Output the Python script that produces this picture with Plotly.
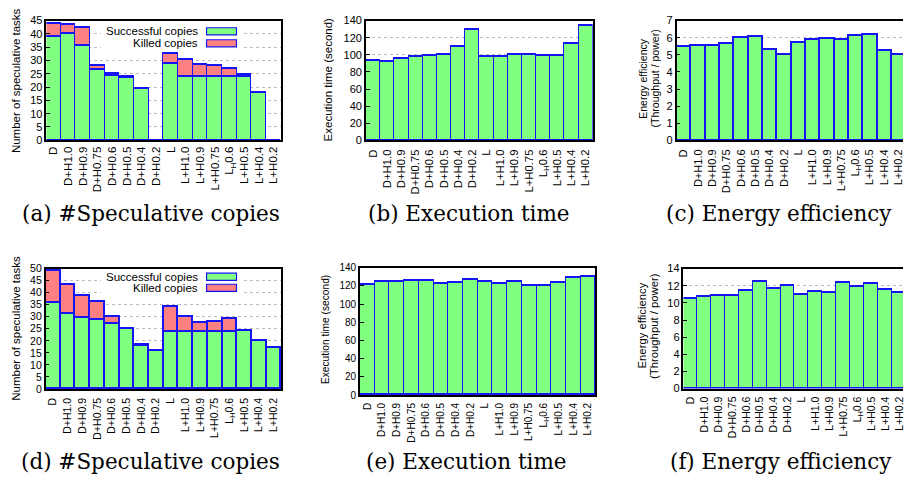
import plotly.graph_objects as go

W, H = 905, 485

categories = ["D", "D+H1.0", "D+H0.9", "D+H0.75", "D+H0.6", "D+H0.5", "D+H0.4", "D+H0.2",
              "L", "L+H1.0", "L+H0.9", "L+H0.75", "L<sub>H</sub>0.6", "L+H0.5", "L+H0.4", "L+H0.2"]

# (a) speculative copies, first setting
succ_a = [39, 40, 35.5, 26.5, 24.5, 23.5, 19.5, 0, 29, 24, 24, 24, 24, 24, 18, 0]
killed_a = [5, 3.5, 7, 1.5, 0.5, 0.5, 0, 0, 3.5, 6.5, 4.5, 4.2, 2.8, 0.8, 0, 0]
# (b) execution time
exec_b = [93.6, 92.5, 95, 98, 99.3, 99.7, 110, 130, 97.4, 98, 99.7, 99.7, 99, 99, 113, 134]
# (c) energy efficiency
eff_c = [5.46, 5.53, 5.55, 5.65, 5.99, 6.07, 5.31, 5.04, 5.69, 5.9, 5.95, 5.9, 6.1, 6.18, 5.23, 5.0]
# (d) speculative copies, second setting
succ_d = [35.8, 31.4, 29.7, 28.8, 27.3, 25.1, 18.2, 15.9, 23.9, 24, 24, 24, 24, 24.1, 20, 17.2]
killed_d = [13.5, 12.1, 9.2, 7.4, 2.7, 0, 0.4, 0, 10.3, 6, 3.6, 4.1, 5.2, 0, 0, 0]
# (e) execution time
exec_e = [121.4, 124.4, 124.4, 125.7, 125.2, 122.9, 123.6, 126.8, 124.4, 122.5, 124.4, 120.5, 120.5, 123.6, 128.6, 129.6]
# (f) energy efficiency
eff_f = [10.55, 10.7, 10.85, 10.85, 11.42, 12.48, 11.65, 12.03, 11.0, 11.34, 11.23, 12.37, 11.95, 12.22, 11.6, 11.15]

captions = ["(a) #Speculative copies", "(b) Execution time", "(c) Energy efficiency",
            "(d) #Speculative copies", "(e) Execution time", "(f) Energy efficiency"]

GREEN = "#80FF80"
RED = "#FF8080"
EDGE = "#1414F5"
SANS = "Liberation Sans, Arial, sans-serif"
SERIF = "DejaVu Serif, serif"


def px(x):
    return x / W


def py(y):
    return 1 - y / H


# panel geometry in pixels:
# (x0, x1, ytop, ybottom, yrange, dtick, xrange_end, xtick font, ytick font, xlabel standoff)
panels = [
    (46.5, 281.5, 15, 137.7, [0, 45], 5, 15.5, 11.5, 11, 0),
    (366.7, 594, 15, 137.7, [0, 140], 20, 15.5, 11.3, 11, 3),
    (678, 905, 15, 137.7, [0, 7], 1, 15.31, 11, 11, 3),
    (45.7, 281.7, 269.3, 392.7, [0, 50], 5, 15.5, 10.5, 10.5, 3),
    (360.7, 596.7, 268.3, 399, [0, 140], 20, 15.5, 10, 10, 2),
    (685, 905, 269.3, 392.3, [0, 14], 2, 15.26, 10.5, 11, 2),
]

fig = go.Figure()

series = [
    [(succ_a, GREEN, "Successful copies"), (killed_a, RED, "Killed copies")],
    [(exec_b, GREEN, "Execution time")],
    [(eff_c, GREEN, "Energy efficiency")],
    [(succ_d, GREEN, "Successful copies"), (killed_d, RED, "Killed copies")],
    [(exec_e, GREEN, "Execution time")],
    [(eff_f, GREEN, "Energy efficiency")],
]

layout = {}
for i, (p, ser) in enumerate(zip(panels, series)):
    n = "" if i == 0 else str(i + 1)
    x0, x1, yt, yb, yr, dt, xend, xfs, yfs, stand = p
    for vals, col, name in ser:
        fig.add_trace(go.Bar(x=categories, y=vals, name=name, showlegend=False,
                             marker=dict(color=col, line=dict(color=EDGE, width=1.2)),
                             xaxis="x" + n, yaxis="y" + n))
    right_cut = xend < 15.5
    layout["xaxis" + n] = dict(
        domain=[px(x0), px(x1)], anchor="y" + n, type="category",
        range=[-0.5, xend], tickangle=-90, showline=True, linecolor="black", linewidth=1.5,
        mirror=True, ticks="", tickfont=dict(family=SANS, size=xfs, color="black"),
        ticklabelstandoff=stand, ticklabeloverflow="allow",
        showgrid=False, fixedrange=True)
    layout["yaxis" + n] = dict(
        domain=[py(yb), py(yt)], anchor="x" + n, range=yr, dtick=dt,
        showline=True, linecolor="black", linewidth=1.5, mirror=(not right_cut),
        ticks="inside", ticklen=4, tickcolor="black",
        tickfont=dict(family=SANS, size=yfs, color="black"),
        showgrid=True, gridcolor="#bbbbbb", griddash="dot", gridwidth=1,
        zeroline=False, fixedrange=True)

fig.update_layout(**layout)
fig.update_layout(barmode="stack", bargap=0, width=W, height=H,
                  margin=dict(l=0, r=0, t=0, b=0),
                  plot_bgcolor="white", paper_bgcolor="white", showlegend=False)

ann = []
# y-axis titles (text, x centre, y centre, size)
ytitles = [
    ("Number of speculative tasks", 16, 76, 11.5),
    ("Execution time (second)", 329, 75, 11.5),
    ("Energy efficiency", 645, 74, 10.5),
    ("(Throughput / power)", 656.7, 74, 10.5),
    ("Number of speculative tasks", 16, 330, 11.5),
    ("Execution time (second)", 327, 332, 10.2),
    ("Energy efficiency", 643, 328, 11.3),
    ("(Throughput / power)", 655.5, 328, 11.3),
]
for t, x, y, s in ytitles:
    ann.append(dict(text=t, x=px(x), y=py(y), xref="paper", yref="paper", showarrow=False,
                    textangle=-90, xanchor="center", yanchor="middle",
                    font=dict(family=SANS, size=s, color="black")))
# captions
cap_pos = [(151, 213), (470, 213), (781, 213), (151, 467), (468, 467), (783, 467)]
for t, (x, y) in zip(captions, cap_pos):
    ann.append(dict(text=t, x=px(x), y=py(y), xref="paper", yref="paper", showarrow=False,
                    xanchor="center", yanchor="middle",
                    font=dict(family=SERIF, size=21.5, color="black")))

shapes = []
# manual legends (text left of swatch) for panels (a) and (d)
for (bx0, bx1, by0, by1, rows, fs) in [
    (101, 243, 17, 44, [26, 38.3], 11.5),
    (101, 243, 271, 296, [277.7, 289], 11.5),
]:
    shapes.append(dict(type="rect", xref="paper", yref="paper", x0=px(bx0), x1=px(bx1),
                       y0=py(by1), y1=py(by0), fillcolor="white", line=dict(width=0),
                       layer="above"))
    for (label, col), ry in zip([("Successful copies", GREEN), ("Killed copies", RED)], rows):
        ann.append(dict(text=label, x=px(200), y=py(ry), xref="paper", yref="paper",
                        showarrow=False, xanchor="right", yanchor="middle",
                        font=dict(family=SANS, size=fs, color="black")))
        shapes.append(dict(type="rect", xref="paper", yref="paper", x0=px(207), x1=px(237),
                           y0=py(ry + 3.7), y1=py(ry - 3.7), fillcolor=col,
                           line=dict(color=EDGE, width=1.2), layer="above"))

fig.update_layout(annotations=ann, shapes=shapes)
fig.write_html("out.html", config={"displayModeBar": False},
               post_script="document.body.style.margin='0';document.body.style.overflow='hidden';")
